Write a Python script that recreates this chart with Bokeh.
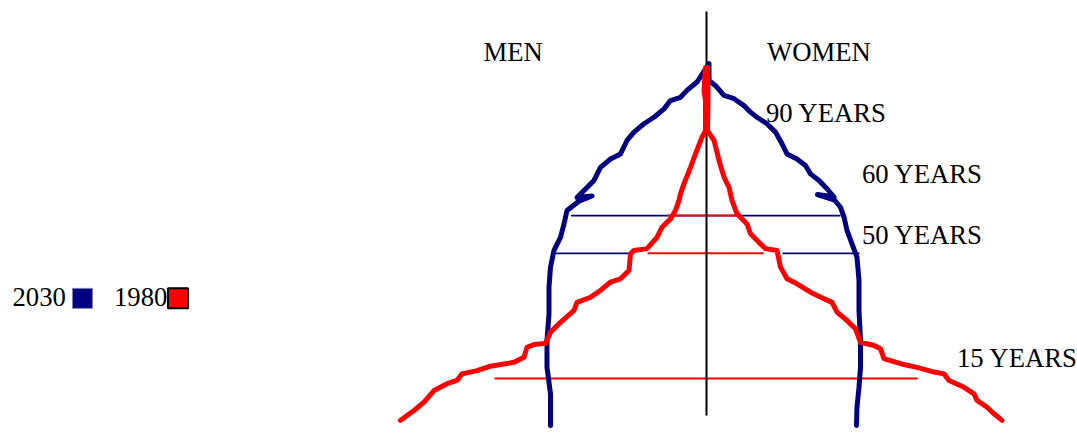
from bokeh.plotting import figure
from bokeh.models import Range1d
from bokeh.core.properties import value
from bokeh.embed import file_html
from bokeh.resources import INLINE

# ---------------- data (age in years, population share per sex side) ----------------
# 2030 outline, men side, listed from oldest to youngest
men_2030_age = [100.0, 94.9, 92.6, 90.7, 89.8, 87.5, 85.2, 83.4, 81.1, 78.8, 75.1, 73.7, 71.4,
                67.8, 65.0, 63.1, 63.5, 62.0, 59.5, 55.8, 52.1, 48.5, 43.9, 38.4, 31.0, 23.7,
                16.3, 9.0, 0.3]
men_2030_val = [-0.05, 0.19, 0.39, 0.52, 0.72, 0.85, 1.05, 1.25, 1.45, 1.59, 1.72, 1.92, 2.12,
                2.25, 2.45, 2.59, 2.29, 2.56, 2.79, 2.85, 2.92, 3.05, 3.12, 3.15, 3.15, 3.19,
                3.19, 3.12, 3.12]
# 2030 outline, women side, oldest to youngest
women_2030_age = [95.3, 93.9, 91.2, 90.3, 88.4, 86.6, 85.2, 83.4, 81.1, 77.9, 75.1, 73.7, 71.9,
                  69.6, 67.8, 65.5, 63.2, 63.9, 62.4, 60.4, 57.7, 54.0, 50.3, 46.6, 40.2, 32.0,
                  23.7, 16.3, 10.8, 5.3, 0.3]
women_2030_val = [0.05, 0.18, 0.35, 0.55, 0.75, 0.88, 1.01, 1.21, 1.38, 1.51, 1.61, 1.81, 1.98,
                  2.08, 2.25, 2.41, 2.55, 2.22, 2.56, 2.68, 2.75, 2.81, 2.91, 3.01, 3.05, 3.05,
                  3.08, 3.08, 3.05, 3.01, 3.00]
# 1980 outline, men side
men_1980_age = [98.9, 92.6, 89.8, 81.5, 79.7, 75.1, 71.4, 66.9, 64.1, 62.3, 59.5, 57.2, 54.9,
                52.1, 49.0, 48.5, 47.6, 43.0, 40.7, 39.8, 37.5, 35.6, 34.2, 32.0, 28.7, 26.0,
                22.9, 22.6, 21.8, 19.1, 17.7, 16.6, 15.4, 14.5, 12.7, 11.8, 9.9, 6.7, 4.4, 1.7]
men_1980_val = [0.02, 0.05, 0.02, 0.02, 0.09, 0.22, 0.32, 0.45, 0.52, 0.55, 0.62, 0.72, 0.89,
                0.99, 1.19, 1.45, 1.52, 1.55, 1.72, 1.92, 2.12, 2.32, 2.59, 2.65, 2.92, 3.12,
                3.22, 3.45, 3.59, 3.65, 3.85, 4.32, 4.59, 4.89, 4.99, 5.19, 5.45, 5.65, 5.85, 6.12]
# 1980 outline, women side
women_1980_age = [98.9, 92.6, 89.8, 81.5, 78.8, 73.3, 68.7, 65.9, 62.3, 58.6, 55.8, 53.1, 50.3,
                  49.0, 48.5, 43.9, 40.7, 39.3, 37.0, 35.2, 34.2, 31.5, 29.2, 26.9, 23.2, 22.3,
                  21.4, 18.7, 17.3, 16.3, 15.0, 14.5, 12.7, 10.8, 9.0, 7.2, 5.3, 3.5, 1.7]
women_1980_val = [0.02, 0.03, 0.03, 0.02, 0.15, 0.25, 0.35, 0.45, 0.51, 0.61, 0.81, 0.88, 1.08,
                  1.18, 1.41, 1.48, 1.61, 1.81, 2.08, 2.35, 2.51, 2.61, 2.81, 2.98, 3.08, 3.35,
                  3.48, 3.55, 3.88, 4.21, 4.55, 4.75, 4.85, 5.15, 5.35, 5.41, 5.61, 5.75, 5.91]

# reference age levels: (age, men width, women width) for each year
levels_2030 = [(58.1, 2.71, 2.68)]
levels_2030_split = [(47.7, 3.06, 1.52, 1.52, 3.06)]  # age, left outer, left inner, right inner, right outer
levels_1980 = [(58.1, 0.78, 0.68), (47.7, 1.18, 1.14), (13.2, 4.24, 4.22)]

age_labels = ["90 YEARS", "60 YEARS", "50 YEARS", "15 YEARS"]
sex_labels = ["MEN", "WOMEN"]
series_years = ["2030", "1980"]

BLUE = "#000080"
RED = "#FF0000"
FONT = "Liberation Serif"
FS = "26.7px"

p = figure(width=1077, height=434, output_backend="svg", toolbar_location=None,
           x_axis_location=None, y_axis_location=None, min_border=0,
           x_range=Range1d(-14.12, 7.42), y_range=Range1d(-2.204, 117.36))
p.grid.visible = False
p.outline_line_color = None
p.background_fill_color = "white"
p.border_fill_color = "white"

# level lines
for a, l, r in levels_2030:
    p.line([-l, r], [a, a], line_color=BLUE, line_width=1.6)
for a, lo, li, ri, ro in levels_2030_split:
    p.line([-lo, -li], [a, a], line_color=BLUE, line_width=1.6)
    p.line([ri, ro], [a, a], line_color=BLUE, line_width=1.6)
for a, l, r in levels_1980:
    p.line([-l, r], [a, a], line_color=RED, line_width=2)

# center axis
p.line([0, 0], [3.0, 114.3], line_color="black", line_width=2)

# outlines
def outline(m_age, m_val, w_age, w_val, color):
    xs = [-v for v in m_val[::-1]] + list(w_val)
    ys = list(m_age[::-1]) + list(w_age)
    p.line(xs, ys, line_color=color, line_width=5, line_join="round", line_cap="round")

outline(men_2030_age, men_2030_val, women_2030_age, women_2030_val, BLUE)
outline(men_1980_age, men_1980_val, women_1980_age, women_1980_val, RED)

# texts
def txt(x, y, s):
    p.text(x=[x], y=[y], text=[s], text_font=value(FONT), text_font_size=FS,
           text_color="black", text_baseline="alphabetic", text_align="left")

txt(-4.46, 103.2, sex_labels[0])
txt(1.21, 103.2, sex_labels[1])
txt(1.19, 86.3, age_labels[0])
txt(3.11, 69.5, age_labels[1])
txt(3.11, 52.8, age_labels[2])
txt(5.01, 19.0, age_labels[3])

# legend
txt(-13.88, 35.6, series_years[0])
p.rect(x=[-12.48], y=[35.3], width=20, height=20, width_units="screen", height_units="screen",
       fill_color=BLUE, line_color="#8080c0", line_width=1)
txt(-11.85, 35.6, series_years[1])
p.rect(x=[-10.57], y=[35.3], width=20, height=20, width_units="screen", height_units="screen",
       fill_color=RED, line_color="black", line_width=2)

open("out.html", "w").write(file_html(p, INLINE))
